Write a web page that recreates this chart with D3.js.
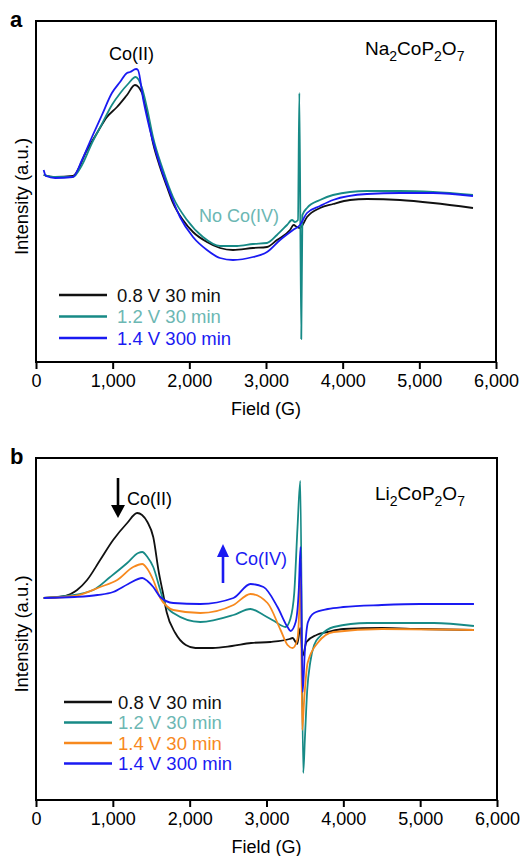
<!DOCTYPE html>
<html>
<head>
<meta charset="UTF-8">
<script src="https://d3js.org/d3.v7.min.js"></script>
<style>
  body { margin: 0; background: #fff; }
  text { font-family: "Liberation Sans", Arial, Helvetica, sans-serif; }
  .frame { fill: none; stroke: #000; stroke-width: 2px; }
  .curve { fill: none; stroke-width: 1.8px; stroke-linejoin: round; }
</style>
</head>
<body>
<svg width="528" height="856"></svg>
<script>
// x: field (G), y: intensity (a.u., arbitrary offset)
const fieldTicks = [0, 1000, 2000, 3000, 4000, 5000, 6000];

const legendA = ["0.8 V 30 min", "1.2 V 30 min", "1.4 V 300 min"];
const legendB = ["0.8 V 30 min", "1.2 V 30 min", "1.4 V 30 min", "1.4 V 300 min"];

// panel a — Na2CoP2O7
const naBlack = [[100,187],[250,185],[480,186],[665,212],[796,229],[926,245],[1057,255],[1187,267],[1291,277],[1383,269],[1448,249],[1526,219],[1617,195],[1709,175],[1787,159],[1917,142],[2048,130],[2230,120],[2400,114],[2570,112],[2830,114],[3013,115],[3143,122],[3313,132],[3360,137],[3404,135],[3443,134],[3535,145],[3704,154],[3874,158],[4096,162],[4317,163],[4748,162],[5178,159],[5700,154]];
const naTeal = [[100,187],[250,185],[480,185],[600,197],[730,219],[860,238],[990,257],[1100,269],[1200,278],[1300,285],[1383,274],[1448,254],[1526,225],[1657,192],[1787,165],[1970,142],[2178,125],[2400,116],[2622,116],[2830,118],[3013,119],[3143,127],[3274,137],[3339,142],[3378,140],[3417,142],[3435,269],[3460,23],[3475,147],[3535,154],[3704,162],[3874,167],[4317,171],[4748,171],[5178,170],[5700,167]];
const naBlue = [[100,192],[130,186],[250,184],[480,185],[600,202],[730,225],[860,247],[990,269],[1096,280],[1187,289],[1226,290],[1305,293],[1330,292],[1400,262],[1487,232],[1617,197],[1748,169],[1878,145],[2048,125],[2230,112],[2400,104],[2570,102],[2830,105],[3013,110],[3183,122],[3352,132],[3443,137],[3535,149],[3704,156],[3874,162],[4317,168],[4748,169],[5178,169],[5700,166]];

// panel b — Li2CoP2O7
const liBlack = [[100,202],[300,203],[450,206],[535,210],[665,220],[835,240],[1004,260],[1187,277],[1317,287],[1380,285],[1450,278],[1526,263],[1600,227],[1650,208],[1700,188],[1813,167],[1950,155],[2074,152],[2300,152],[2550,154],[2800,157],[3050,158],[3300,161],[3340,162],[3400,156],[3440,172],[3470,144],[3520,158],[3650,165],[3800,168],[4000,171],[4500,172],[5000,171],[5700,170]];
const liTeal = [[100,202],[400,204],[745,210],[965,223],[1187,237],[1330,247],[1383,248],[1450,243],[1526,233],[1617,210],[1657,200],[1787,187],[2139,178],[2570,185],[2791,191],[2961,185],[3100,179],[3248,173],[3310,181],[3361,207],[3404,273],[3440,319],[3478,27],[3500,62],[3530,110],[3570,138],[3620,155],[3700,164],[3874,173],[4317,177],[5178,177],[5700,174]];
const liOrange = [[100,202],[500,204],[835,213],[1057,220],[1265,233],[1383,236],[1450,231],[1526,220],[1617,202],[1700,194],[1787,190],[2139,187],[2570,195],[2791,206],[3013,197],[3183,170],[3274,155],[3339,152],[3400,160],[3430,200],[3443,242],[3465,70],[3490,100],[3535,137],[3665,157],[3874,168],[4500,171],[5700,170]];
const liBlue = [[100,202],[500,203],[800,205],[1004,208],[1200,216],[1383,222],[1450,219],[1526,213],[1617,203],[1787,197],[2139,196],[2570,202],[2791,216],[2961,213],[3143,193],[3274,173],[3313,169],[3380,178],[3420,210],[3443,253],[3470,108],[3500,150],[3540,178],[3620,187],[3800,191],[4000,193],[4500,195],[5000,196],[5700,196]];

const colBlack = "#111111", colTeal = "#178a86", colOrange = "#f7891e", colBlue = "#1a1af2";
const txtTeal = "#6cb7b3";

const svg = d3.select("svg");

function panel(opt) {
  const x = d3.scaleLinear().domain([0, 6000]).range([opt.left, opt.right]);
  const y = d3.scaleLinear().domain([0, opt.bottom - opt.top]).range([opt.bottom, opt.top]);
  const g = svg.append("g");

  const line = d3.line().x(d => x(d[0])).y(d => y(d[1])).curve(d3.curveMonotoneX);
  opt.series.forEach(s => {
    g.append("path").attr("class", "curve").attr("stroke", s.color).attr("d", line(s.data));
  });

  g.append("rect").attr("class", "frame")
    .attr("x", opt.left).attr("y", opt.top)
    .attr("width", opt.right - opt.left).attr("height", opt.bottom - opt.top);

  const ax = g.append("g").attr("transform", `translate(0,${opt.bottom})`)
    .call(d3.axisBottom(x).tickValues(fieldTicks).tickFormat(d3.format(",")).tickSizeOuter(0).tickSize(7).tickPadding(5));
  ax.select(".domain").remove();
  ax.selectAll(".tick line").attr("stroke", "#000").attr("stroke-width", 2);
  ax.selectAll(".tick text").attr("font-size", 18).attr("fill", "#000")
    .style("font-family", '"Liberation Sans", Arial, sans-serif');

  g.append("text").attr("x", (opt.left + opt.right) / 2).attr("y", opt.bottom + 53)
    .attr("text-anchor", "middle").attr("font-size", 18).text("Field (G)");

  g.append("text").attr("transform", `translate(28,${(opt.top + opt.bottom) / 2 + 5}) rotate(-90)`)
    .attr("text-anchor", "middle").attr("font-size", 18.5).text("Intensity (a.u.)");

  g.append("text").attr("x", 10).attr("y", opt.top + 6)
    .attr("font-size", 22).attr("font-weight", "bold").text(opt.tag);

  // legend
  opt.legend.forEach((label, i) => {
    const ly = opt.legY + i * opt.legStep;
    const s = opt.series[i];
    g.append("line").attr("x1", opt.legX).attr("x2", opt.legX + 48)
      .attr("y1", ly).attr("y2", ly).attr("stroke", s.color).attr("stroke-width", 2.6);
    g.append("text").attr("x", opt.legTextX).attr("y", ly + 6.5)
      .attr("font-size", 18.5).attr("fill", s.text || s.color).text(label);
  });

  // formula label with subscripts
  const f = g.append("text").attr("x", opt.formula.x).attr("y", opt.formula.y).attr("font-size", 19);
  opt.formula.parts.forEach(p => {
    if (p.sub) f.append("tspan").attr("dy", 6).attr("font-size", 14).text(p.t);
    else f.append("tspan").attr("dy", p.after ? -6 : 0).text(p.t);
  });
  return { x, y, g };
}

// panel a
const pa = panel({
  left: 36, right: 496, top: 21, bottom: 362, tag: "a",
  series: [
    { data: naBlack, color: colBlack },
    { data: naTeal, color: colTeal, text: txtTeal },
    { data: naBlue, color: colBlue }
  ],
  legend: legendA, legX: 59, legTextX: 117, legY: 295, legStep: 21.5,
  formula: { x: 365, y: 55, parts: [{ t: "Na" }, { t: "2", sub: true }, { t: "CoP", after: true }, { t: "2", sub: true }, { t: "O", after: true }, { t: "7", sub: true }] }
});
pa.g.append("text").attr("x", 109).attr("y", 60).attr("font-size", 18).text("Co(II)");
pa.g.append("text").attr("x", 199).attr("y", 222).attr("font-size", 18).attr("fill", txtTeal).text("No Co(IV)");

// panel b — draw order so teal spike sits under orange and blue
const pb = panel({
  left: 36, right: 497, top: 458, bottom: 800, tag: "b",
  series: [
    { data: liBlack, color: colBlack },
    { data: liTeal, color: colTeal, text: txtTeal },
    { data: liOrange, color: colOrange },
    { data: liBlue, color: colBlue }
  ],
  legend: legendB, legX: 64, legTextX: 118, legY: 702, legStep: 20.5,
  formula: { x: 375, y: 500, parts: [{ t: "Li" }, { t: "2", sub: true }, { t: "CoP", after: true }, { t: "2", sub: true }, { t: "O", after: true }, { t: "7", sub: true }] }
});
pb.g.append("text").attr("x", 127).attr("y", 505).attr("font-size", 18).text("Co(II)");
pb.g.append("text").attr("x", 235).attr("y", 565).attr("font-size", 18).attr("fill", colBlue).text("Co(IV)");

function arrow(g, xPos, y1, y2, color, hw, hh) {
  // y1 = tail, y2 = tip
  const dir = y2 > y1 ? 1 : -1;
  g.append("line").attr("x1", xPos).attr("x2", xPos).attr("y1", y1).attr("y2", y2 - dir * hh)
    .attr("stroke", color).attr("stroke-width", 2.6);
  g.append("path").attr("fill", color)
    .attr("d", `M${xPos - hw / 2},${y2 - dir * hh} L${xPos + hw / 2},${y2 - dir * hh} L${xPos},${y2} Z`);
}
arrow(pb.g, 118, 478, 518, "#000", 14, 13);
arrow(pb.g, 223, 583, 544, colBlue, 12, 13);
</script>
</body>
</html>
